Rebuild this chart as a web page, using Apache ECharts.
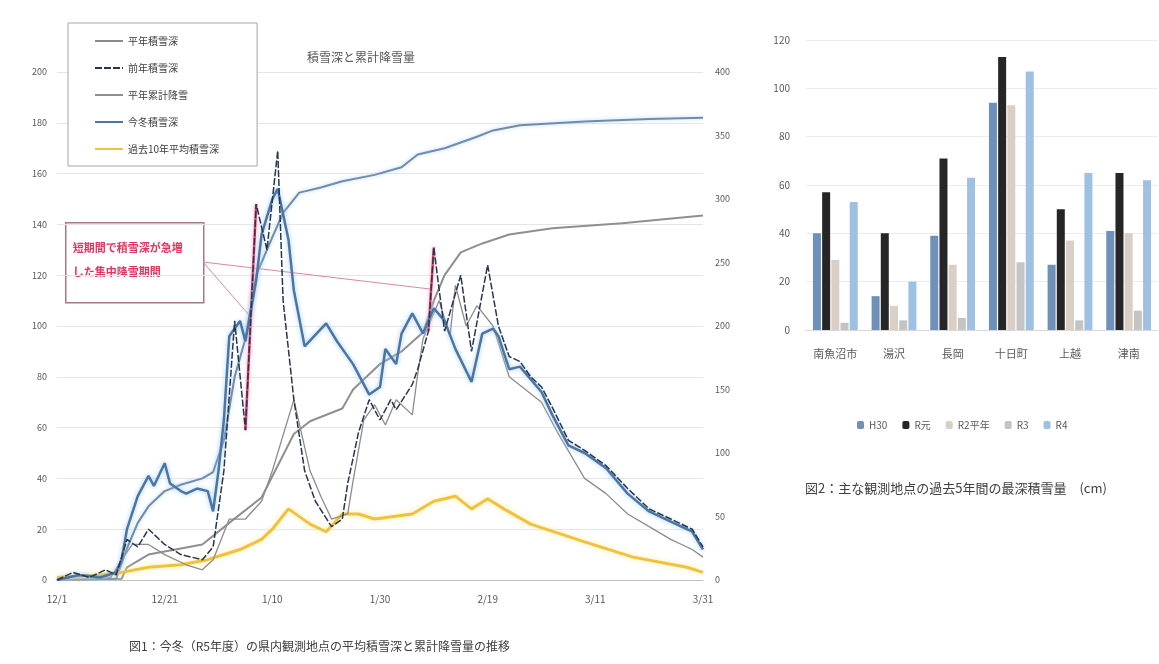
<!DOCTYPE html>
<html>
<head>
<meta charset="utf-8">
<script src="https://cdn.jsdelivr.net/npm/echarts/dist/echarts.min.js"></script>
<style>
  html, body { margin: 0; padding: 0; background: #ffffff; }
  #chart { width: 1159px; height: 664px; }
</style>
</head>
<body>
<div id="chart"></div>
<script>
// ---- Left chart: daily snow depth (cm, left axis) and cumulative snowfall (cm, right axis)
// x = days since 12/1
const xTickLabels = ['12/1', '12/21', '1/10', '1/30', '2/19', '3/11', '3/31'];
const depthLeftTicks = [0, 200, 20];     // min, max, step
const cumulativeTicks = [0, 400, 50];

const depthThisWinter = [[0,0],[4,2],[8,1],[11,3],[12,8],[13,20],[15,33],[17,41],[18,37],[20,46],[21,38],[23,35],[24,34],[26,36],[28,35],[29,27],[30,43],[31,63],[32,96],[34,102],[35,94],[37,118],[38,136],[40,150],[41,154],[43,134],[44,114],[46,92],[50,101],[52,94],[55,85],[58,73],[60,76],[61,91],[63,85],[64,97],[66,105],[68,97],[70,107],[72,102],[74,91],[77,78],[79,97],[81,99],[82,96],[84,83],[86,84],[90,74],[92,65],[95,53],[98,50],[102,44],[106,34],[110,27],[114,23],[118,19],[120,12]];
const depthLastWinter = [[0,0],[3,3],[6,1],[9,4],[11,2],[13,16],[15,13],[17,20],[20,14],[23,10],[27,8],[29,13],[31,43],[33,102],[35,59],[37,148],[39,130],[41,169],[42,110],[44,71],[46,43],[48,31],[51,21],[53,24],[54,38],[56,58],[58,71],[60,63],[62,71],[63,67],[66,77],[67,83],[69,98],[70,131],[71,114],[72,98],[75,120],[77,90],[80,124],[82,100],[84,88],[86,86],[88,80],[90,76],[92,68],[95,55],[98,51],[102,45],[106,36],[110,28],[114,24],[118,20],[120,13]];
const depthNormal = [[0,0],[5,2],[10,1],[12,8],[14,14],[17,14],[20,10],[24,6],[27,4],[29,8],[32,24],[35,24],[38,31],[40,43],[44,71],[47,43],[49,33],[51,24],[54,26],[55,39],[57,63],[59,69],[61,61],[63,71],[66,65],[67,81],[68,95],[71,110],[73,96],[74,116],[76,100],[78,108],[81,100],[84,80],[90,70],[93,58],[98,40],[102,34],[106,26],[110,21],[114,16],[118,12],[120,9]];
const depthTenYearAvg = [[0,1],[8,2],[12,3],[17,5],[23,6],[28,8],[34,12],[38,16],[40,20],[43,28],[47,22],[50,19],[53,26],[56,26],[59,24],[66,26],[70,31],[74,33],[77,28],[80,32],[83,28],[88,22],[98,15],[107,9],[117,5],[120,3]];
const snowfallThisWinter = [[0,0],[11,1],[13,25],[15,45],[17,58],[20,70],[23,75],[27,80],[29,85],[31,110],[33,160],[35,190],[37,240],[40,270],[42,289],[45,305],[49,309],[53,314],[59,319],[64,325],[67,335],[72,340],[78,349],[81,354],[86,358],[98,361],[110,363],[120,364]];
const snowfallNormal = [[0,0],[12,1],[13,10],[17,20],[27,28],[32,45],[38,65],[44,115],[47,125],[53,135],[55,150],[60,170],[64,180],[68,195],[70,220],[72,240],[75,258],[79,265],[84,272],[92,277],[105,281],[120,287]];

// days on which depth jumped sharply (start day, end day) within depthLastWinter
const surgeDays = [[35, 37], [69, 70]];

const leftNames = ['平年積雪深', '前年積雪深', '平年累計降雪', '今冬積雪深', '過去10年平均積雪深'];
const snowfallName = '今冬累計降雪';
const chartTitle = '積雪深と累計降雪量';
const noteLines = ['短期間で積雪深が急増', 'した集中降雪期間'];
const caption1 = '図1：今冬（R5年度）の県内観測地点の平均積雪深と累計降雪量の推移';

// ---- Right chart: maximum snow depth by station
const stations = ['南魚沼市', '湯沢', '長岡', '十日町', '上越', '津南'];
const seasonNames = ['H30', 'R元', 'R2平年', 'R3', 'R4'];
const seasonH30 = [40, 14, 39, 94, 27, 41];
const seasonR1 = [57, 40, 71, 113, 50, 65];
const seasonR2 = [29, 10, 27, 93, 37, 40];
const seasonR3 = [3, 4, 5, 28, 4, 8];
const seasonR4 = [53, 20, 63, 107, 65, 62];
const barTicks = [0, 120, 20];
const caption2 = '図2：主な観測地点の過去5年間の最深積雪量　(cm)';

const FONT = '"Noto Sans CJK JP", "Noto Sans", sans-serif';
const chart = echarts.init(document.getElementById('chart'), null, { renderer: 'canvas' });

const pointAt = (arr, day) => arr.find(p => p[0] === day);
const surgeSegments = surgeDays.map(([a, b]) => [
  { coord: pointAt(depthLastWinter, a) },
  { coord: pointAt(depthLastWinter, b) }
]);
const noteAnchor = { x: 203, y: 262 };
const calloutSegments = surgeDays.map(([a, b]) => {
  const p = pointAt(depthLastWinter, a), q = pointAt(depthLastWinter, b);
  return [
    { x: noteAnchor.x, y: noteAnchor.y, lineStyle: { color: '#d58a9c', width: 1, shadowBlur: 0 } },
    { coord: [(p[0] + q[0]) / 2, (p[1] + q[1]) / 2] }
  ];
});

const lineBase = { type: 'line', xAxisIndex: 0, symbol: 'none', showSymbol: false, smooth: false };

const option = {
  animation: false,
  backgroundColor: '#ffffff',
  textStyle: { fontFamily: FONT },
  title: {
    text: chartTitle, left: 302, top: 46,
    textStyle: { fontSize: 12, fontWeight: 'normal', color: '#595959', fontFamily: FONT }
  },
  grid: [
    { left: 57, top: 72, width: 646, height: 508 },
    { left: 806, top: 40, width: 352, height: 290 }
  ],
  legend: [
    {
      data: leftNames, orient: 'vertical', left: 68, top: 23,
      itemWidth: 28, itemHeight: 12, itemGap: 17,
      itemStyle: { opacity: 0 },
      backgroundColor: '#ffffff', borderColor: '#a6a6a6', borderWidth: 1,
      padding: [13, 38, 12, 26],
      textStyle: { fontSize: 10, color: '#404040', fontFamily: FONT }
    },
    {
      data: seasonNames, left: 852, top: 415,
      itemWidth: 7, itemHeight: 8, itemGap: 15,
      textStyle: { fontSize: 10, color: '#595959', fontFamily: FONT }
    }
  ],
  xAxis: [
    {
      type: 'value', gridIndex: 0, min: 0, max: 120, interval: 20,
      axisLine: { show: true, lineStyle: { color: '#bfbfbf' } },
      axisTick: { show: false }, splitLine: { show: false },
      axisLabel: { formatter: v => xTickLabels[Math.round(v / 20)], fontSize: 10, color: '#595959', margin: 14 }
    },
    {
      type: 'category', gridIndex: 1, data: stations,
      axisLine: { show: true, lineStyle: { color: '#d9d9d9' } },
      axisTick: { show: false },
      axisLabel: { fontSize: 11, color: '#595959', margin: 18 }
    }
  ],
  yAxis: [
    {
      type: 'value', gridIndex: 0, min: depthLeftTicks[0], max: depthLeftTicks[1], interval: depthLeftTicks[2],
      axisLine: { show: false }, axisTick: { show: false },
      splitLine: { lineStyle: { color: '#e6e6e6' } },
      axisLabel: { fontSize: 9, color: '#595959', margin: 10 }
    },
    {
      type: 'value', gridIndex: 0, position: 'right',
      min: cumulativeTicks[0], max: cumulativeTicks[1], interval: cumulativeTicks[2],
      axisLine: { show: false }, axisTick: { show: false }, splitLine: { show: false },
      axisLabel: { fontSize: 9, color: '#595959', margin: 12 }
    },
    {
      type: 'value', gridIndex: 1, min: barTicks[0], max: barTicks[1], interval: barTicks[2],
      axisLine: { show: false }, axisTick: { show: false },
      splitLine: { lineStyle: { color: '#ececec' } },
      axisLabel: { fontSize: 10, color: '#595959', margin: 16 }
    }
  ],
  series: [
    Object.assign({}, lineBase, {
      name: leftNames[2], yAxisIndex: 1, data: snowfallNormal, z: 2,
      lineStyle: { color: '#8f8f8f', width: 2 }, itemStyle: { color: '#8f8f8f' }
    }),
    Object.assign({}, lineBase, {
      name: snowfallName, yAxisIndex: 1, data: snowfallThisWinter, z: 2,
      lineStyle: { color: '#6f8cab', width: 2, shadowColor: '#b7d6f2', shadowBlur: 4 }, itemStyle: { color: '#6f8cab' }
    }),
    Object.assign({}, lineBase, {
      name: leftNames[4], yAxisIndex: 0, data: depthTenYearAvg, z: 3,
      lineStyle: { color: '#f0c23c', width: 3, shadowColor: '#fbe8a6', shadowBlur: 6 }, itemStyle: { color: '#f0c23c' }
    }),
    Object.assign({}, lineBase, {
      name: leftNames[0], yAxisIndex: 0, data: depthNormal, z: 4,
      lineStyle: { color: '#8c8c8c', width: 1.3 }, itemStyle: { color: '#7a7a7a' }
    }),
    Object.assign({}, lineBase, {
      name: leftNames[3], yAxisIndex: 0, data: depthThisWinter, z: 5,
      lineStyle: { color: '#4b76a3', width: 2.5, shadowColor: '#9fcaf0', shadowBlur: 5 }, itemStyle: { color: '#4b76a3' }
    }),
    Object.assign({}, lineBase, {
      name: leftNames[1], yAxisIndex: 0, data: depthLastWinter, z: 6,
      lineStyle: { color: '#27364f', width: 1.5, type: [7, 2] }, itemStyle: { color: '#27364f' },
      markLine: {
        silent: true, symbol: 'none', animation: false,
        label: { show: false },
        lineStyle: { color: '#e8406e', width: 2.5, type: 'solid', shadowColor: '#f7b6c8', shadowBlur: 4 },
        data: surgeSegments.concat(calloutSegments)
      }
    }),
    { type: 'bar', name: seasonNames[0], xAxisIndex: 1, yAxisIndex: 2, data: seasonH30, barWidth: 8, barGap: '15%', itemStyle: { color: '#6d91b8' } },
    { type: 'bar', name: seasonNames[1], xAxisIndex: 1, yAxisIndex: 2, data: seasonR1, barWidth: 8, barGap: '15%', itemStyle: { color: '#262626' } },
    { type: 'bar', name: seasonNames[2], xAxisIndex: 1, yAxisIndex: 2, data: seasonR2, barWidth: 8, barGap: '15%', itemStyle: { color: '#d9cfc5' } },
    { type: 'bar', name: seasonNames[3], xAxisIndex: 1, yAxisIndex: 2, data: seasonR3, barWidth: 8, barGap: '15%', itemStyle: { color: '#c4c4c4' } },
    { type: 'bar', name: seasonNames[4], xAxisIndex: 1, yAxisIndex: 2, data: seasonR4, barWidth: 8, barGap: '15%', itemStyle: { color: '#9ec1e3' } }
  ],
  graphic: [
    {
      type: 'group', left: 65, top: 222, z: 20,
      children: [
        { type: 'rect', shape: { x: 0, y: 0, width: 138, height: 80 }, style: { fill: '#ffffff', stroke: '#a57a86', lineWidth: 1.5 } },
        { type: 'text', x: 7, y: 20, style: { text: noteLines[0], fill: '#e2345f', font: 'bold 11px ' + FONT } },
        { type: 'text', x: 7, y: 44, style: { text: noteLines[1], fill: '#e2345f', font: 'bold 11px ' + FONT } }
      ]
    },
    { type: 'text', left: 129, top: 640, style: { text: caption1, fill: '#404040', font: '12px ' + FONT } },
    { type: 'text', left: 805, top: 482, style: { text: caption2, fill: '#404040', font: '13px ' + FONT } }
  ]
};

chart.setOption(option);
</script>
</body>
</html>
